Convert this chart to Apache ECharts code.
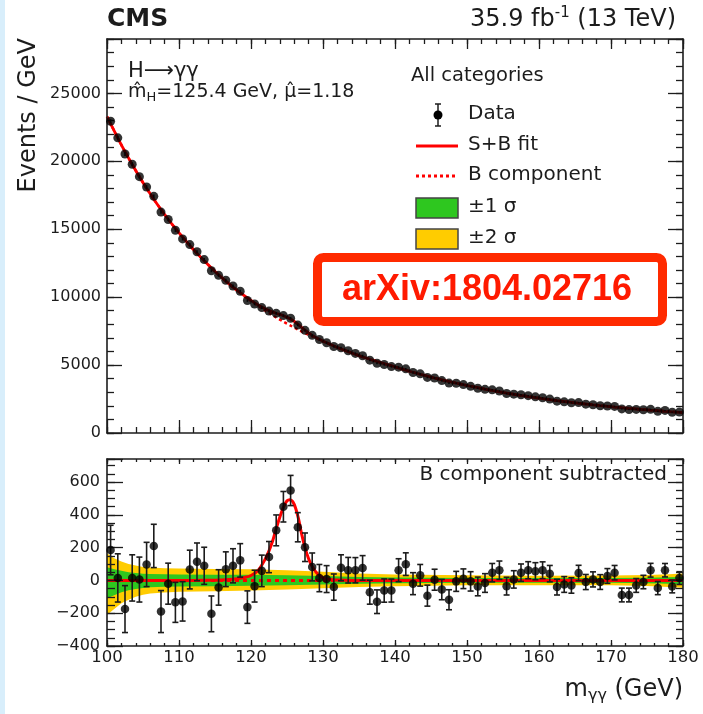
<!DOCTYPE html>
<html>
<head>
<meta charset="utf-8">
<script src="https://cdn.jsdelivr.net/npm/echarts@6/dist/echarts.min.js"></script>
<style>
  html, body { margin: 0; padding: 0; background: #ffffff; }
  #chart { width: 703px; height: 714px; }
</style>
</head>
<body>
<div id="chart"></div>
<script>
// Diphoton invariant mass spectrum, 1 GeV bins (bin centres)
const massBins = [
  100.5, 101.5, 102.5, 103.5, 104.5, 105.5, 106.5, 107.5, 108.5, 109.5,
  110.5, 111.5, 112.5, 113.5, 114.5, 115.5, 116.5, 117.5, 118.5, 119.5,
  120.5, 121.5, 122.5, 123.5, 124.5, 125.5, 126.5, 127.5, 128.5, 129.5,
  130.5, 131.5, 132.5, 133.5, 134.5, 135.5, 136.5, 137.5, 138.5, 139.5,
  140.5, 141.5, 142.5, 143.5, 144.5, 145.5, 146.5, 147.5, 148.5, 149.5,
  150.5, 151.5, 152.5, 153.5, 154.5, 155.5, 156.5, 157.5, 158.5, 159.5,
  160.5, 161.5, 162.5, 163.5, 164.5, 165.5, 166.5, 167.5, 168.5, 169.5,
  170.5, 171.5, 172.5, 173.5, 174.5, 175.5, 176.5, 177.5, 178.5, 179.5
];

// Events / GeV in each bin
const events = [
  22945, 21725, 20537, 19779, 18869, 18106, 17419, 16259, 15714, 14920,
  14286, 13870, 13337, 12763, 11945, 11606, 11247, 10823, 10436, 9751,
  9499, 9231, 8972, 8809, 8643, 8448, 7945, 7558, 7186, 6878,
  6644, 6369, 6271, 6051, 5856, 5684, 5359, 5132, 5039, 4886,
  4845, 4723, 4451, 4355, 4090, 4051, 3860, 3672, 3663, 3563,
  3435, 3296, 3213, 3176, 3095, 2906, 2858, 2814, 2747, 2662,
  2592, 2498, 2346, 2294, 2223, 2236, 2121, 2079, 2007, 1990,
  1958, 1772, 1724, 1736, 1713, 1742, 1592, 1661, 1524, 1538
];

// Statistical uncertainty of each bin
const eventErr = [
  151, 147, 143, 141, 137, 135, 132, 128, 125, 122,
  120, 118, 115, 113, 109, 108, 106, 104, 102, 99,
  97, 96, 95, 94, 93, 92, 89, 87, 85, 83,
  82, 80, 79, 78, 77, 75, 73, 72, 71, 70,
  70, 69, 67, 66, 64, 64, 62, 61, 61, 60,
  59, 57, 57, 56, 56, 54, 53, 53, 52, 52,
  51, 50, 48, 48, 47, 47, 46, 46, 45, 45,
  44, 42, 42, 42, 41, 42, 40, 41, 39, 39
];

// Data minus the fitted background component
const residual = [
  185, 15, -175, 15, 5, 97, 210, -190, -20, -134,
  -128, 66, 113, 89, -204, -43, 68, 89, 122, -163,
  -35, 58, 142, 305, 449, 548, 324, 202, 82, 14,
  8, -41, 77, 62, 62, 76, -72, -130, -62, -62,
  62, 99, -20, 31, -93, 4, -56, -118, -6, 10,
  -6, -37, -16, 47, 62, -35, 6, 47, 62, 56,
  62, 41, -41, -25, -31, 45, -10, 6, -10, 27,
  47, -89, -89, -31, -10, 62, -47, 62, -37, 14
];

// Fit curves sampled at the range edges and bin centres
const fitMass = [100].concat(massBins, [180]);
const bkgFit = [
  23290,
  22760, 21710, 20712, 19764, 18864, 18009, 17209, 16449, 15734, 15054,
  14414, 13804, 13224, 12674, 12149, 11649, 11179, 10734, 10314, 9914,
  9534, 9173, 8830, 8504, 8194, 7900, 7621, 7356, 7104, 6864,
  6636, 6410, 6194, 5989, 5794, 5608, 5431, 5262, 5101, 4948,
  4783, 4624, 4471, 4324, 4183, 4047, 3916, 3790, 3669, 3553,
  3441, 3333, 3229, 3129, 3033, 2941, 2852, 2767, 2685, 2606,
  2530, 2457, 2387, 2319, 2254, 2191, 2131, 2073, 2017, 1963,
  1911, 1861, 1813, 1767, 1723, 1680, 1639, 1599, 1561, 1524,
  1506
];
const sbFit = [
  23290,
  22760, 21710, 20712, 19764, 18864, 18009, 17209, 16449, 15734, 15054,
  14414, 13804, 13224, 12674, 12149, 11649, 11179, 10743, 10329, 9939,
  9579, 9268, 9010, 8814, 8634, 8390, 8021, 7566, 7189, 6896,
  6647, 6410, 6194, 5989, 5794, 5608, 5431, 5262, 5101, 4948,
  4783, 4624, 4471, 4324, 4183, 4047, 3916, 3790, 3669, 3553,
  3441, 3333, 3229, 3129, 3033, 2941, 2852, 2767, 2685, 2606,
  2530, 2457, 2387, 2319, 2254, 2191, 2131, 2073, 2017, 1963,
  1911, 1861, 1813, 1767, 1723, 1680, 1639, 1599, 1561, 1524,
  1506
];

// Signal part of the S+B fit (background subtracted)
const sigMass = [100, 112, 115, 116, 117, 118, 119, 120, 121, 122, 122.5, 123, 123.5, 124, 124.5,
  125, 125.4, 125.8, 126.2, 126.6, 127, 127.5, 128, 128.5, 129, 129.5, 130, 131, 132, 134, 180];
const sigFit = [0, 0, 1, 2, 5, 10, 17, 30, 62, 132, 180, 240, 315, 385, 445,
  485, 492, 480, 440, 375, 290, 200, 132, 85, 52, 30, 17, 5, 2, 0, 0];

// Uncertainty bands on the background component
const bandMass = [100, 100.5, 101, 102, 103, 104, 105, 106, 108, 110, 115, 120, 125, 130, 135, 140, 150, 160, 170, 175, 178, 180];
const band2Up = [165, 150, 135, 115, 100, 90, 82, 78, 74, 72, 70, 68, 62, 52, 42, 36, 31, 29, 30, 33, 38, 42];
const band2Lo = [-210, -192, -175, -140, -118, -100, -88, -80, -74, -70, -66, -62, -56, -48, -40, -35, -30, -29, -30, -34, -40, -45];
const band1Up = [80, 74, 68, 58, 50, 45, 41, 39, 37, 36, 35, 34, 31, 26, 21, 18, 15, 14, 15, 16, 19, 21];
const band1Lo = [-110, -100, -90, -72, -60, -52, -46, -42, -39, -37, -35, -33, -30, -25, -21, -18, -15, -14, -15, -17, -20, -23];

const bkgSubMass = [100, 180];
const bkgSubVal = [0, 0];

const INK = '#1c1c1c';
const FONT = 'DejaVu Sans';
const RED = '#ff0000';

const chart = echarts.init(document.getElementById('chart'), null, { renderer: 'canvas' });

function axis(grid, pos, min, max, interval, len, opts) {
  opts = opts || {};
  return {
    type: 'value', gridIndex: grid, position: pos, min: min, max: max, interval: interval,
    axisLine: { show: !!opts.line, onZero: false, lineStyle: { color: INK, width: 1.6 } },
    axisTick: { show: true, inside: true, length: len, lineStyle: { color: INK, width: 1.3 } },
    axisLabel: opts.label ? Object.assign({
      show: true, color: INK, fontFamily: FONT, fontSize: 16
    }, opts.label) : { show: false },
    splitLine: { show: false },
    minorTick: { show: false },
    z: 5
  };
}

function pairs(xs, ys) { return xs.map((x, i) => [x, ys[i]]); }

function errorBars(xs, ys, errs, axisIdx, cap) {
  return {
    type: 'custom', xAxisIndex: axisIdx, yAxisIndex: axisIdx, z: 4, silent: true,
    encode: { x: 0, y: [1, 2] },
    data: xs.map((x, i) => [x, ys[i] - errs[i], ys[i] + errs[i]]),
    renderItem: function (params, api) {
      const lo = api.coord([api.value(0), api.value(1)]);
      const hi = api.coord([api.value(0), api.value(2)]);
      const st = { stroke: INK, lineWidth: 1.6 };
      const kids = [{ type: 'line', shape: { x1: lo[0], y1: lo[1], x2: hi[0], y2: hi[1] }, style: st }];
      if (cap > 0) {
        kids.push({ type: 'line', shape: { x1: lo[0] - cap, y1: lo[1], x2: lo[0] + cap, y2: lo[1] }, style: st });
        kids.push({ type: 'line', shape: { x1: hi[0] - cap, y1: hi[1], x2: hi[0] + cap, y2: hi[1] }, style: st });
      }
      return { type: 'group', children: kids };
    }
  };
}

function band(lo, hi, color) {
  return {
    type: 'custom', xAxisIndex: 4, yAxisIndex: 4, z: 1, silent: true,
    data: [[bandMass[0], 0]],
    renderItem: function (params, api) {
      const pts = [];
      for (let i = 0; i < bandMass.length; i++) pts.push(api.coord([bandMass[i], hi[i]]));
      for (let i = bandMass.length - 1; i >= 0; i--) pts.push(api.coord([bandMass[i], lo[i]]));
      return { type: 'polygon', shape: { points: pts }, style: { fill: color } };
    }
  };
}

const topYFmt = v => (v % 5000 === 0 ? String(v) : '');
const lowYFmt = v => (v % 200 === 0 ? (v < 0 ? '\u2212' + Math.abs(v) : String(v)) : '');

const option = {
  animation: false,
  backgroundColor: '#ffffff',
  grid: [
    { left: 107, top: 39, width: 576, height: 394, containLabel: false, outerBoundsMode: 'none' },
    { left: 107, top: 459, width: 576, height: 187, containLabel: false, outerBoundsMode: 'none' }
  ],
  xAxis: [
    axis(0, 'bottom', 100, 180, 10, 13, { line: true }),
    axis(0, 'bottom', 100, 180, 2, 6),
    axis(0, 'top', 100, 180, 10, 10, { line: true }),
    axis(0, 'top', 100, 180, 2, 5),
    axis(1, 'bottom', 100, 180, 10, 6, { line: true, label: { margin: 3, fontSize: 16.5 } }),
    axis(1, 'bottom', 100, 180, 2, 3),
    axis(1, 'top', 100, 180, 10, 5, { line: true }),
    axis(1, 'top', 100, 180, 2, 3)
  ],
  yAxis: [
    axis(0, 'left', 0, 29000, 5000, 15, { line: true, label: { margin: 6, formatter: topYFmt } }),
    axis(0, 'left', 0, 29000, 1000, 7),
    axis(0, 'right', 0, 29000, 5000, 15, { line: true }),
    axis(0, 'right', 0, 29000, 1000, 7),
    axis(1, 'left', -400, 740, 200, 16, { line: true, label: { margin: 7, formatter: lowYFmt } }),
    axis(1, 'left', -400, 740, 50, 8),
    axis(1, 'right', -400, 740, 200, 15, { line: true }),
    axis(1, 'right', -400, 740, 50, 7)
  ],
  series: [
    // upper panel
    {
      type: 'line', xAxisIndex: 0, yAxisIndex: 0, data: pairs(fitMass, bkgFit), smooth: 0.3,
      symbol: 'none', z: 2, silent: true,
      lineStyle: { color: RED, width: 2.5, type: [3, 3] }
    },
    {
      type: 'line', xAxisIndex: 0, yAxisIndex: 0, data: pairs(fitMass, sbFit), smooth: 0.3,
      symbol: 'none', z: 3, silent: true,
      lineStyle: { color: RED, width: 2.8 }
    },
    errorBars(massBins, events, eventErr, 0, 0),
    {
      type: 'scatter', xAxisIndex: 0, yAxisIndex: 0, data: pairs(massBins, events),
      symbol: 'circle', symbolSize: 9, z: 6, silent: true,
      itemStyle: { color: '#000000' }
    },
    // lower panel
    band(band2Lo, band2Up, '#ffcc00'),
    band(band1Lo, band1Up, '#2ec71f'),
    {
      type: 'line', xAxisIndex: 4, yAxisIndex: 4, data: pairs(bkgSubMass, bkgSubVal),
      symbol: 'none', z: 2, silent: true,
      lineStyle: { color: RED, width: 3, type: [4, 4] }
    },
    {
      type: 'line', xAxisIndex: 4, yAxisIndex: 4, data: pairs(sigMass, sigFit), smooth: 0.35,
      symbol: 'none', z: 3, silent: true,
      lineStyle: { color: RED, width: 3 }
    },
    errorBars(massBins, residual, eventErr, 4, 3),
    {
      type: 'scatter', xAxisIndex: 4, yAxisIndex: 4, data: pairs(massBins, residual),
      symbol: 'circle', symbolSize: 8.5, z: 6, silent: true,
      itemStyle: { color: '#000000' }
    }
  ],
  graphic: [
    { type: 'rect', silent: true, shape: { x: 0, y: 0, width: 5, height: 714 }, style: { fill: '#d8eefb' } },
    { type: 'text', x: 107, y: 19, style: { text: 'CMS', font: 'bold 25px "DejaVu Sans"', fill: INK, verticalAlign: 'middle' } },
    {
      type: 'text', x: 676, y: 20,
      style: {
        text: '{n|35.9 fb}{s|-1}{n| (13 TeV)}', align: 'right', verticalAlign: 'middle',
        rich: {
          n: { fontSize: 24, fontFamily: FONT, lineHeight: 28, fill: INK },
          s: { fontSize: 15, fontFamily: FONT, lineHeight: 15, fill: INK, verticalAlign: 'top' }
        }
      }
    },
    { type: 'text', x: 128, y: 72, style: { text: 'H\u27F6\u03B3\u03B3', font: '21px "DejaVu Sans"', fill: INK, verticalAlign: 'middle' } },
    {
      type: 'text', x: 128, y: 92,
      style: {
        text: '{n|m\u0302}{s|H}{n|=125.4 GeV, \u03BC\u0302=1.18}', verticalAlign: 'middle',
        rich: {
          n: { fontSize: 19, fontFamily: FONT, lineHeight: 24, fill: INK },
          s: { fontSize: 13, fontFamily: FONT, lineHeight: 12, fill: INK, verticalAlign: 'bottom' }
        }
      }
    },
    // legend
    { type: 'text', x: 411, y: 76, style: { text: 'All categories', font: '19.5px "DejaVu Sans"', fill: INK, verticalAlign: 'middle' } },
    { type: 'line', shape: { x1: 438, y1: 104, x2: 438, y2: 126 }, style: { stroke: INK, lineWidth: 1.5 } },
    { type: 'line', shape: { x1: 435, y1: 104, x2: 441, y2: 104 }, style: { stroke: INK, lineWidth: 1.5 } },
    { type: 'line', shape: { x1: 435, y1: 126, x2: 441, y2: 126 }, style: { stroke: INK, lineWidth: 1.5 } },
    { type: 'circle', shape: { cx: 438, cy: 115, r: 4.5 }, style: { fill: '#000000' } },
    { type: 'text', x: 468, y: 114, style: { text: 'Data', font: '20px "DejaVu Sans"', fill: INK, verticalAlign: 'middle' } },
    { type: 'line', shape: { x1: 416, y1: 146, x2: 458, y2: 146 }, style: { stroke: RED, lineWidth: 3 } },
    { type: 'text', x: 468, y: 145, style: { text: 'S+B fit', font: '20px "DejaVu Sans"', fill: INK, verticalAlign: 'middle' } },
    { type: 'line', shape: { x1: 416, y1: 176, x2: 458, y2: 176 }, style: { stroke: RED, lineWidth: 3, lineDash: [3, 3] } },
    { type: 'text', x: 468, y: 175, style: { text: 'B component', font: '20px "DejaVu Sans"', fill: INK, verticalAlign: 'middle' } },
    { type: 'rect', shape: { x: 416, y: 198, width: 42, height: 20 }, style: { fill: '#2ec71f', stroke: '#444444', lineWidth: 1.5 } },
    { type: 'text', x: 468, y: 207, style: { text: '\u00B11 \u03C3', font: '20px "DejaVu Sans"', fill: INK, verticalAlign: 'middle' } },
    { type: 'rect', shape: { x: 416, y: 229, width: 42, height: 20 }, style: { fill: '#ffcc00', stroke: '#444444', lineWidth: 1.5 } },
    { type: 'text', x: 468, y: 238, style: { text: '\u00B12 \u03C3', font: '20px "DejaVu Sans"', fill: INK, verticalAlign: 'middle' } },
    // reference tag
    { type: 'rect', z: 100, shape: { x: 317.5, y: 257.5, width: 345, height: 64, r: 6 }, style: { fill: '#ffffff', stroke: '#ff2a00', lineWidth: 9 } },
    { type: 'text', z: 101, x: 487, y: 290, style: { text: 'arXiv:1804.02716', font: 'bold 36px "Liberation Sans"', fill: '#ff1a00', align: 'center', verticalAlign: 'middle' } },
    // lower panel caption
    { type: 'text', x: 667, y: 475, style: { text: 'B component subtracted', font: '20px "DejaVu Sans"', fill: INK, align: 'right', verticalAlign: 'middle' } },
    // axis titles
    { type: 'text', x: 29, y: 38, rotation: Math.PI / 2, style: { text: 'Events / GeV', font: '24px "DejaVu Sans"', fill: INK, align: 'right', verticalAlign: 'middle' } },
    {
      type: 'text', x: 683, y: 690,
      style: {
        text: '{n|m}{s|\u03B3\u03B3}{n| (GeV)}', align: 'right', verticalAlign: 'middle',
        rich: {
          n: { fontSize: 24, fontFamily: FONT, lineHeight: 28, fill: INK },
          s: { fontSize: 16, fontFamily: FONT, lineHeight: 14, fill: INK, verticalAlign: 'bottom' }
        }
      }
    }
  ]
};

chart.setOption(option);
</script>
</body>
</html>
